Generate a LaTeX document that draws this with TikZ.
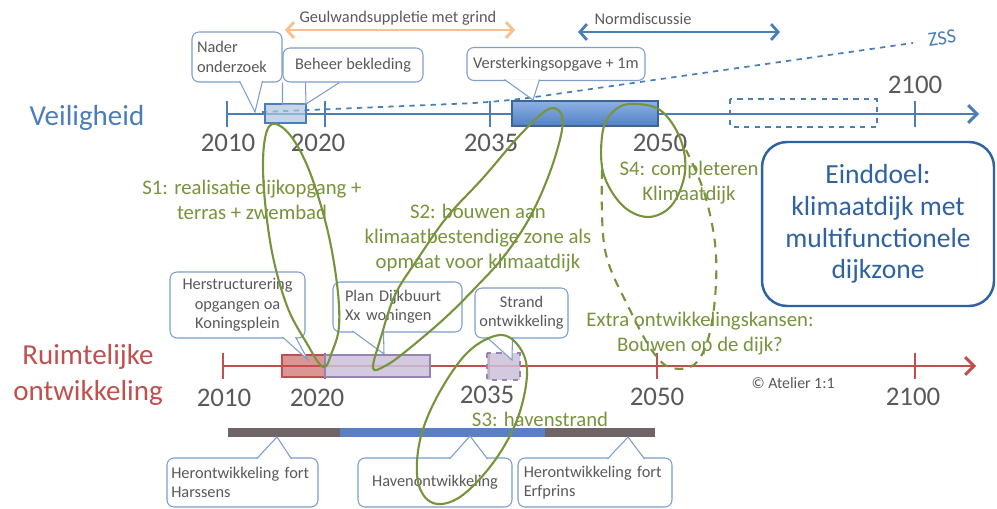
\documentclass[tikz,border=0pt]{standalone}
\usepackage{fontspec}
\setmainfont{Carlito}
\usetikzlibrary{arrows.meta,calc}
\definecolor{safetyBlue}{HTML}{4A7EBB}
\definecolor{spatialRed}{HTML}{C0504D}
\definecolor{loopGreen}{HTML}{77933C}
\definecolor{textGray}{HTML}{595959}
\definecolor{calloutBlue}{HTML}{7D9DCC}
\definecolor{goalBlue}{HTML}{2F62A3}
\definecolor{gravelOrange}{HTML}{F9BF8E}
\definecolor{planLilac}{HTML}{CCC1DA}
\definecolor{lilacEdge}{HTML}{9585B5}
\definecolor{boxBlue}{HTML}{5B8FD9}
\definecolor{barGray}{HTML}{6F6567}
\definecolor{barBlue}{HTML}{5A80C0}

\begin{document}
\begin{tikzpicture}[x=0.02cm, y=-0.02cm,
  callout/.style={draw=calloutBlue, line width=0.6pt, rounded corners=4pt, fill=white,
    text=textGray, font=\fontsize{9.3}{11}\selectfont, inner sep=0.08cm},
  pointer/.style={draw=calloutBlue, line width=0.6pt, fill=white},
  greenloop/.style={draw=loopGreen, line width=1.2pt},
  phase/.style={text=loopGreen, font=\fontsize{11.8}{14.2}\selectfont, align=center, inner sep=0pt},
  year/.style={text=textGray, font=\fontsize{15.3}{18}\selectfont, inner sep=0pt},
  small/.style={text=textGray, font=\fontsize{9.3}{11}\selectfont},
  axis/.style={line width=1.7pt, -{Straight Barb[length=5pt,width=10pt]}},
  tick/.style={line width=1.4pt},
  span/.style={line width=1.6pt, {Straight Barb[length=4pt,width=9pt]}-{Straight Barb[length=4pt,width=9pt]}}]
  \useasboundingbox (0,0) rectangle (997,509);

  % labels on the left
  \node[text=safetyBlue, font=\fontsize{16.5}{20}\selectfont] (veilig) at (87,118) {Veiligheid};
  \node[text=spatialRed, font=\fontsize{16.5}{20.4}\selectfont, align=center] (ruimte) at (88,375) {Ruimtelijke\\ontwikkeling};

  % arrows on top
  \node[small] (geul) at (398,18) {Geulwandsuppletie met grind};
  \coordinate (geulL) at (285,30);
  \coordinate (geulR) at (515,30);
  \draw[span, gravelOrange] (geulL) -- (geulR);
  \node[small] (norm) at (643,19) {Normdiscussie};
  \coordinate (normL) at (578,32);
  \coordinate (normR) at (780,32);
  \draw[span, safetyBlue] (normL) -- (normR);

  % top timeline
  \coordinate (topStart) at (227,114);
  \coordinate (topEnd) at (979,114);
  \draw[axis, safetyBlue] (topStart) -- (topEnd);
  \foreach \x in {227,325,490,658,915}
    \draw[tick, safetyBlue] (\x,101) -- (\x,127);
  \coordinate (zssStart) at (262,112);
  \coordinate (zssEnd) at (913,43);
  \draw[safetyBlue, dashed, line width=1pt, rounded corners=20pt] (zssStart) -- (500,102) -- (zssEnd);
  \node[text=safetyBlue, font=\fontsize{11.5}{13}\selectfont, rotate=8] (zss) at (942,38) {ZSS};
  \fill[safetyBlue!45, opacity=0.7] (265,104) rectangle (306,123);
  \draw[safetyBlue, line width=0.6pt] (265,104) rectangle (306,123);
  \shade[top color=boxBlue!70!white, bottom color=boxBlue!90!black] (512,101) rectangle (658,126);
  \draw[safetyBlue!80!black, line width=0.6pt] (512,101) rectangle (658,126);
  \draw[safetyBlue, dashed, line width=1.4pt] (730,99) rectangle (877,127);
  \node[year] (t2010) at (228,143) {2010};
  \node[year] (t2020) at (318,143) {2020};
  \node[year] (t2035) at (491,143) {2035};
  \node[year] (t2050) at (660,143) {2050};
  \node[year] (t2100) at (915,85) {2100};

  % callouts top
  \node[callout, minimum width=1.8cm, minimum height=1cm, text width=1.6cm, align=left] (nader) at (237,57) {Nader\\onderzoek};
  \coordinate (naderTip) at (255,112);
  \filldraw[pointer] ($(nader.south west)+(48,-1.5)$) -- (naderTip) -- ($(nader.south west)+(71,-1.5)$);
  \node[callout, minimum width=2.8cm, minimum height=0.68cm] (beheer) at (353,65) {Beheer bekleding};
  \coordinate (beheerTip) at (306,104);
  \draw[pointer, fill=none] (beheer.south west) -- ++(0,22) -- (beheerTip) -- ($(beheer.south west)+(57,0)$);
  \draw[pointer, fill=none] ($(beheer.south west)+(23,0)$) -- (beheerTip);
  \node[callout, minimum width=3.56cm, minimum height=0.66cm] (verst) at (556,64) {Versterkingsopgave + 1m};
  \coordinate (verstTip) at (533,100);
  \filldraw[pointer] ($(verst.south west)+(38,-1.5)$) -- (verstTip) -- ($(verst.south west)+(73,-1.5)$);

  % bottom timeline
  \coordinate (botStart) at (223,366);
  \coordinate (botEnd) at (976,366);
  \draw[axis, spatialRed] (botStart) -- (botEnd);
  \foreach \x in {223,325,489,657,915}
    \draw[tick, spatialRed] (\x,353) -- (\x,379);
  \draw[draw=spatialRed, fill=spatialRed, fill opacity=0.6, line width=0.6pt] (282,355) rectangle (325,377);
  \draw[draw=lilacEdge, fill=planLilac, fill opacity=0.85, line width=0.6pt] (325,355) rectangle (430,377);
  \draw[draw=lilacEdge, fill=planLilac, fill opacity=0.85, dashed, line width=0.8pt] (487,353) rectangle (520,380);
  \node[year] (b2010) at (224,398) {2010};
  \node[year] (b2020) at (317,398) {2020};
  \node[year] (b2035) at (487,395) {2035};
  \node[year] (b2050) at (657,397) {2050};
  \node[year] (b2100) at (913,397) {2100};
  \node[small, font=\fontsize{9}{11}\selectfont] (atelier) at (793,383) {© Atelier 1:1};

  % callouts bottom timeline
  \node[callout, minimum width=2.7cm, minimum height=1.32cm, align=center] (herstr) at (237.5,305) {Herstructurering\\opgangen oa\\Koningsplein};
  \coordinate (herstrTip) at (308,360);
  \filldraw[pointer] ($(herstr.south west)+(113,-1.5)$) -- (herstrTip) -- ($(herstr.south west)+(126,-1.5)$);
  \node[callout, minimum width=2.58cm, minimum height=1cm, text width=2.1cm, align=left] (plan) at (397.5,307) {Plan Dijkbuurt\\Xx woningen};
  \coordinate (planTip) at (384,354);
  \filldraw[pointer] ($(plan.south west)+(20,-1.5)$) -- (planTip) -- ($(plan.south west)+(51,-1.5)$);
  \node[callout, minimum width=1.86cm, minimum height=1cm, inner xsep=0.02cm, align=center] (strand) at (521.5,313) {Strand\\ontwikkeling};
  \coordinate (strandTip) at (512,360);
  \filldraw[pointer] ($(strand.south west)+(12,-1.5)$) -- (strandTip) -- ($(strand.south west)+(38,-1.5)$);

  % bars and callouts below
  \fill[barGray] (228,428) rectangle (340,437);
  \fill[barBlue] (340,428) rectangle (545,437);
  \fill[barGray] (545,428) rectangle (655,437);
  \node[callout, minimum width=3.02cm, minimum height=0.98cm, text width=2.85cm, inner xsep=0.085cm, align=left] (harssens) at (242.5,482.5) {Herontwikkeling fort\\Harssens};
  \coordinate (harssensTip) at (277,437);
  \filldraw[pointer] ($(harssens.north west)+(90,1.5)$) -- (harssensTip) -- ($(harssens.north west)+(125,1.5)$);
  \node[callout, minimum width=3.08cm, minimum height=0.98cm] (haven) at (435,482.5) {Havenontwikkeling};
  \coordinate (havenTip) at (470,436);
  \filldraw[pointer] ($(haven.north west)+(92,1.5)$) -- (havenTip) -- ($(haven.north west)+(130,1.5)$);
  \node[callout, minimum width=3.08cm, minimum height=0.98cm, text width=2.85cm, inner xsep=0.115cm, align=left] (erfprins) at (595,482.5) {Herontwikkeling fort\\Erfprins};
  \coordinate (erfprinsTip) at (628,437);
  \filldraw[pointer] ($(erfprins.north west)+(90,1.5)$) -- (erfprinsTip) -- ($(erfprins.north west)+(127,1.5)$);

  % end goal
  \node[draw=goalBlue, line width=1.4pt, rounded corners=0.5cm, fill=white, minimum width=4.64cm, minimum height=3.28cm,
    text=goalBlue, font=\fontsize{15.7}{18.1}\selectfont, align=center] (einddoel) at (878,224)
    {Einddoel:\\klimaatdijk met\\multifunctionele\\dijkzone};

  % phases
  \node[phase] (s1) at (252,200) {S1: realisatie dijkopgang +\\terras + zwembad};
  \node[phase] (s2) at (478,238) {S2: bouwen aan\\klimaatbestendige zone als\\opmaat voor klimaatdijk};
  \node[phase] (s3) at (540,419) {S3: havenstrand};
  \node[phase] (s4) at (689,183) {S4: completeren\\Klimaatdijk};
  \node[phase] (extra) at (700,334) {Extra ontwikkelingskansen:\\Bouwen op de dijk?};

  \draw[greenloop] plot[smooth cycle, tension=0.6] coordinates {(272,124) (290,135) (309,170) (327,228) (337,284) (339,326) (332,352) (323,367) (306,342) (287,306) (272,252) (264,190) (264,145)};
  \draw[greenloop] plot[smooth cycle, tension=0.6] coordinates {(373,368) (381,337) (395,295) (417,260) (447,217) (483,178) (520,135) (547,110) (560,112) (562,130) (550,172) (530,217) (505,255) (478,285) (445,318) (405,352) (385,366)};
  \draw[greenloop] plot[smooth cycle, tension=0.6] coordinates {(500,335) (520,348) (527,375) (517,420) (493,463) (460,497) (433,503) (418,482) (420,440) (438,395) (468,352)};
  \draw[greenloop] plot[smooth cycle, tension=0.6] coordinates {(632,104) (660,110) (680,138) (685,172) (672,205) (648,217) (622,205) (603,172) (603,130) (615,110)};
  \draw[greenloop, dash pattern=on 5pt off 4pt] plot[smooth, tension=0.6] coordinates {(602,170) (605,250) (630,310) (653,352) (672,368) (697,362) (712,322) (716,255) (705,195) (686,150)};
\end{tikzpicture}
\end{document}
